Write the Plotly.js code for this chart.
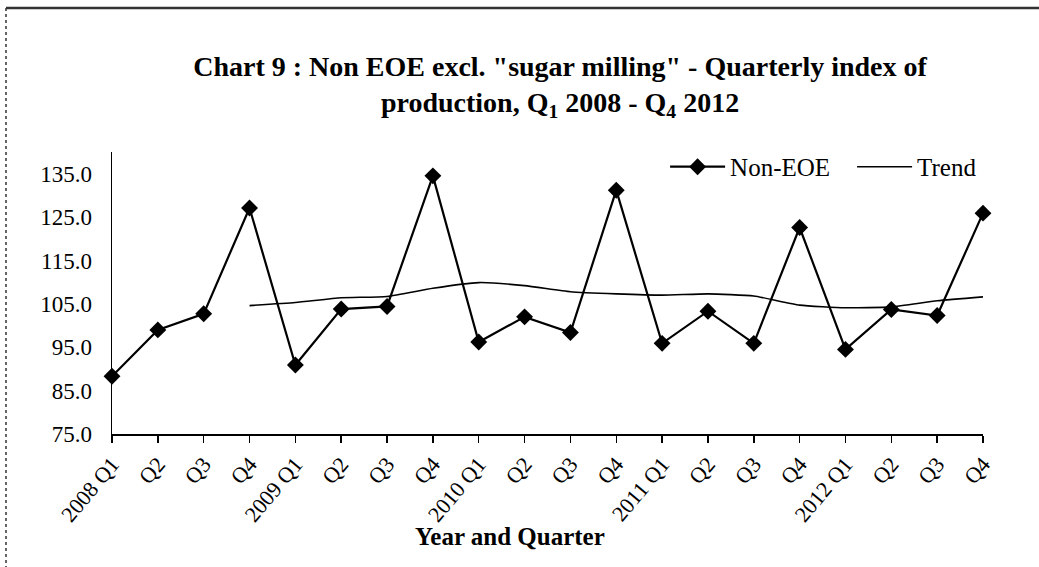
<!DOCTYPE html>
<html>
<head>
<meta charset="utf-8">
<script src="https://cdn.plot.ly/plotly-3.0.1.min.js"></script>
<style>html,body{margin:0;padding:0;background:#fff;}#chart{width:1039px;height:567px;}</style>
</head>
<body>
<div id="chart"></div>
<script>
const quarterLabels = ["2008 Q1","Q2","Q3","Q4","2009 Q1","Q2","Q3","Q4","2010 Q1","Q2","Q3","Q4","2011 Q1","Q2","Q3","Q4","2012 Q1","Q2","Q3","Q4"];
const nonEOE = [88.3, 99.0, 102.7, 127.1, 90.9, 103.8, 104.4, 134.5, 96.2, 102.0, 98.4, 131.2, 95.9, 103.3, 95.9, 122.6, 94.5, 103.7, 102.3, 125.9];
const trend = [null, null, null, 104.6, 105.3, 106.4, 106.7, 108.6, 109.9, 109.2, 107.8, 107.3, 107.0, 107.3, 106.8, 104.7, 104.1, 104.3, 105.7, 106.6];
const yTicks = [75, 85, 95, 105, 115, 125, 135];

const xIdx = quarterLabels.map((_, i) => i);
const serif = "Liberation Serif, Times New Roman, serif";

const traces = [
  {
    x: xIdx, y: nonEOE, name: "Non-EOE", type: "scatter", mode: "lines+markers",
    line: {color: "#000", width: 2.2},
    marker: {symbol: "diamond", size: 13, color: "#000"},
    cliponaxis: false
  },
  {
    x: xIdx, y: trend, name: "Trend", type: "scatter", mode: "lines",
    line: {color: "#000", width: 1.6, shape: "spline", smoothing: 0.5},
    connectgaps: false
  }
];

const layout = {
  width: 1039, height: 567,
  paper_bgcolor: "#fff", plot_bgcolor: "#fff",
  margin: {l: 112, r: 56, t: 152, b: 133, autoexpand: false},
  showlegend: true,
  title: {
    text: "<b>Chart 9 : Non EOE excl. \"sugar milling\" - Quarterly index of<br>production, Q<sub>1</sub> 2008 - Q<sub>4</sub> 2012</b>",
    font: {family: serif, size: 28, color: "#000"},
    x: 0.539, xanchor: "center", y: 0.866, yanchor: "middle"
  },
  legend: {
    orientation: "h", x: 0.635, y: 0.947, xanchor: "left", yanchor: "middle",
    font: {family: serif, size: 25, color: "#000"},
    bgcolor: "rgba(0,0,0,0)", tracegroupgap: 0,
    itemwidth: 55, entrywidth: 117, entrywidthmode: "pixels"
  },
  xaxis: {
    range: [0, 19], tickmode: "array", tickvals: xIdx, ticktext: quarterLabels,
    tickangle: -50, ticks: "outside", ticklen: 7, tickwidth: 1.5, tickcolor: "#000",
    showline: true, linecolor: "#000", linewidth: 1.5, showgrid: false, zeroline: false,
    tickfont: {family: serif, size: 22, color: "#000"}
  },
  yaxis: {
    range: [75, 140], tickmode: "array", tickvals: yTicks, tickformat: ".1f",
    ticks: "", showline: true, linecolor: "#000", linewidth: 1.5, showgrid: false, zeroline: false,
    tickfont: {family: serif, size: 23, color: "#000"}, ticklabelstandoff: 14
  },
  annotations: [
    {text: "<b>Year and Quarter</b>", xref: "paper", yref: "paper", x: 0.457, y: -0.365,
     xanchor: "center", yanchor: "middle", showarrow: false,
     font: {family: serif, size: 25, color: "#000"}}
  ],
  shapes: [
    {type: "line", xref: "paper", yref: "paper", x0: -0.1217, x1: 1.07, y0: 1.5106, y1: 1.5106, line: {color: "#333", width: 2.5}},
    {type: "line", xref: "paper", yref: "paper", x0: -0.1217, x1: -0.1217, y0: 1.5106, y1: -0.48, line: {color: "#333", width: 1.5, dash: "dot"}}
  ]
};

Plotly.newPlot("chart", traces, layout, {staticPlot: true, displayModeBar: false});
</script>
</body>
</html>
